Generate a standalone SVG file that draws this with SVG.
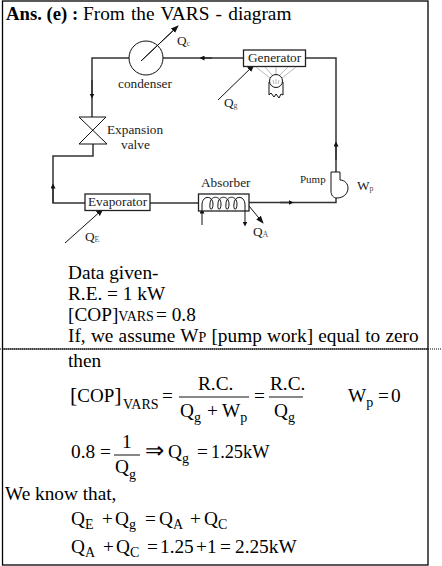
<svg xmlns="http://www.w3.org/2000/svg" width="442" height="566" viewBox="0 0 442 566">
<style>
text{font-family:"Liberation Serif","Times New Roman",serif;fill:#000}
.t{font-size:19.300px}
.l{font-size:13.300px;fill:#222}
.s{font-size:8px;fill:#555}
.b{font-size:14px}
.ln{fill:none;stroke:#333;stroke-width:1.500}
.th{fill:none;stroke:#111;stroke-width:1}
.box{fill:#fff;stroke:#222;stroke-width:1.300}
.lt{fill:none;stroke:#999;stroke-width:.7}
.frac{stroke:#111;stroke-width:1}
</style>
<defs>
<marker id="a" viewBox="0 0 8 8" refX="7" refY="4" markerWidth="8" markerHeight="8" markerUnits="userSpaceOnUse" orient="auto"><path d="M0 1L8 4L0 7Z" fill="#111"/></marker>
<marker id="m" viewBox="0 0 6 6" refX="3" refY="3" markerWidth="5" markerHeight="5" markerUnits="userSpaceOnUse" orient="auto"><path d="M0 0L6 3L0 6Z" fill="#111"/></marker>
</defs>
<g id="frame" fill="none" stroke="#000">
<rect x="2.500" y="1" width="425.500" height="564" stroke-width="1.300"/>
<path d="M2 349H428" stroke-width="1"/>
<path d="M0 349H442" stroke-width="1" stroke-dasharray="1 1"/>
</g>
<g id="connectors">
<path class="ln" d="M129 58H92V117"/>
<path class="ln" d="M92 80V96" marker-end="url(#m)"/>
<path class="ln" d="M93 144V156H53V203H85"/>
<path class="ln" d="M53 203V186" marker-end="url(#m)"/>
<path class="ln" d="M150 203H198"/>
<path class="ln" d="M249 202.500H336V198"/>
<path class="ln" d="M280 202.500H291" marker-end="url(#m)"/>
<path class="ln" d="M336 172V58H305"/>
<path class="ln" d="M336 160V144" marker-end="url(#m)"/>
<path class="ln" d="M243 58H163"/>
<path class="ln" d="M212 58H202" marker-end="url(#m)"/>
<path class="th" d="M141 61L178 26" marker-end="url(#a)"/>
<path class="th" d="M218 100L254 65" marker-end="url(#a)"/>
<path class="th" d="M65 243L103 209" marker-end="url(#a)"/>
<path class="th" d="M202 225V211" marker-end="url(#m)"/>
<path class="th" d="M245 211V224" marker-end="url(#m)"/>
<path class="th" d="M249 206L263 223" marker-end="url(#a)"/>
</g>
<g id="condenser"><circle class="th" cx="146" cy="58" r="17" fill="none"/><path class="th" d="M141 61L178 26"/><text class="l" x="118" y="88">condenser</text><text class="l" x="177" y="45">Q<tspan class="s" dy="1">c</tspan></text></g>
<g id="valve"><path class="th" d="M79 117H106L79 144H107L79 117Z" fill="#fff"/><text class="l" x="107" y="134">Expansion</text><text class="l" x="121" y="149">valve</text></g>
<g id="evaporator"><rect class="box" x="85" y="194" width="65" height="16.500"/><text class="l" x="88" y="206">Evaporator</text><text class="l" x="85" y="241">Q<tspan class="s" dy="1">E</tspan></text></g>
<g id="absorber"><rect class="box" x="198.500" y="194" width="50.500" height="17"/><path class="th" stroke-width="1.200" d="M202 211V205C202 195 213 195 213 204C213 211 209 211 210 204C210 195 221 195 221 204C221 211 217 211 218 204C218 195 229 195 229 204C229 211 225 211 226 204C226 195 237 195 237 204C237 211 233 211 234 204C234 195 245 195 245 205V211"/><text class="l" x="201" y="187">Absorber</text><text class="l" x="253" y="236">Q<tspan class="s" dy="1">A</tspan></text></g>
<g id="pump"><path class="th" d="M331 172H340V180C345 180 348 184 348 188C348 194 343 198 337 198C333 198 331 195 331 191Z" fill="#fff"/><text x="300" y="183" style="font-size:11px;fill:#222">Pump</text><text class="l" x="357" y="190">W<tspan class="s" dy="1">p</tspan></text></g>
<g id="generator"><rect class="box" x="243.500" y="50" width="62" height="16.500"/><text class="l" x="248" y="62">Generator</text><text class="l" x="224" y="107">Q<tspan class="s" dy="1">g</tspan></text>
<path class="lt" d="M256 67L270 78M265 67L273 76M276 67V75M288 67L279 76M296 67L282 78M273 80L274 84M276 79V84M279 80L278 84"/>
<circle class="th" cx="276" cy="81" r="6.500"/><path class="th" d="M269 82V95L271 93L274 97L276 94L279 98L281 94L283 95V82"/></g>
<g id="text">
<text class="t" x="6" y="20" font-weight="bold" style="font-size:18.700px">Ans. (e) :</text>
<text class="t" x="83" y="20" word-spacing="1.400">From the VARS - diagram</text>
<text class="t" x="68" y="279">Data given-</text>
<text class="t" x="68" y="300">R.E. = 1 kW</text>
<text class="t" x="68" y="321">[COP]<tspan class="b">VARS</tspan><tspan x="156">= 0.8</tspan></text>
<text class="t" x="68" y="342" word-spacing=".4">If, we assume W<tspan class="b">P</tspan> [pump work] equal to zero</text>
<text class="t" x="68" y="367">then</text>
<text class="t" x="70" y="402" style="font-size:19px"><tspan font-size="22">[</tspan>COP<tspan font-size="22">]</tspan></text>
<text class="b" x="123" y="409">VARS</text>
<text class="t" x="162" y="402">=</text>
<text class="t" x="198" y="390">R.C.</text>
<path class="frac" d="M179 397H249"/>
<text class="t" x="180" y="417">Q<tspan class="b" dy="5">g</tspan><tspan dy="-5" x="207">+</tspan><tspan x="222">W</tspan><tspan class="b" dy="5">p</tspan></text>
<text class="t" x="254" y="402">=</text>
<text class="t" x="270" y="390">R.C.</text>
<path class="frac" d="M269 397H303"/>
<text class="t" x="274" y="417">Q<tspan class="b" dy="5">g</tspan></text>
<text class="t" x="348" y="402">W<tspan class="b" dy="5">p</tspan><tspan dy="-5" x="378">=</tspan><tspan x="391">0</tspan></text>
<text class="t" x="71" y="458">0.8 =</text>
<text class="t" x="122" y="448">1</text>
<path class="frac" d="M114 455H140"/>
<text class="t" x="115" y="473">Q<tspan class="b" dy="6">g</tspan></text>
<text class="t" x="145" y="458"><tspan font-size="23">⇒</tspan><tspan x="168">Q</tspan><tspan class="b" dy="5">g</tspan><tspan dy="-5" x="197">=</tspan><tspan x="211" font-size="18.300">1.25kW</tspan></text>
<text class="t" x="5" y="500">We know that,</text>
<text class="t" x="71" y="525">Q<tspan class="b" dy="4">E</tspan><tspan dy="-4" x="102">+</tspan><tspan x="115">Q</tspan><tspan class="b" dy="4">g</tspan><tspan dy="-4" x="145">=</tspan><tspan x="159">Q</tspan><tspan class="b" dy="4">A</tspan><tspan dy="-4" x="190">+</tspan><tspan x="204">Q</tspan><tspan class="b" dy="4">C</tspan></text>
<text class="t" x="71" y="553">Q<tspan class="b" dy="4">A</tspan><tspan dy="-4" x="103">+</tspan><tspan x="116">Q</tspan><tspan class="b" dy="4">C</tspan><tspan dy="-4" x="147">=</tspan><tspan x="160">1.25</tspan><tspan x="196">+</tspan><tspan x="207">1</tspan><tspan x="220">=</tspan><tspan x="235">2.25kW</tspan></text>
</g>
</svg>
